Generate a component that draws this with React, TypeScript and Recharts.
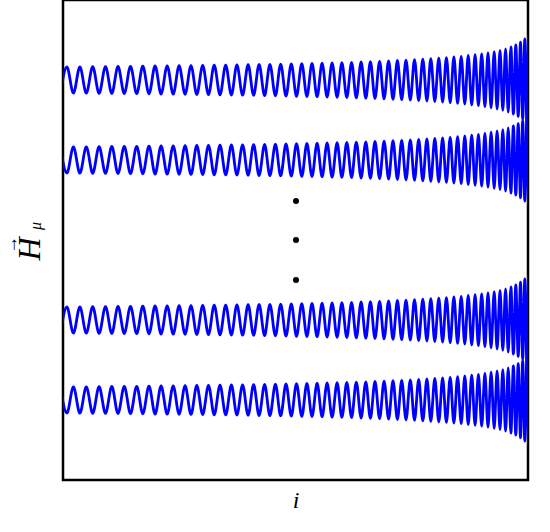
import React from 'react';
import { ComposedChart, Line, XAxis, YAxis, ReferenceArea, ReferenceDot, Customized } from 'recharts';

// positions (along i) of successive extrema of the oscillating curves
const extremaI = [
  -2.6, 3.9, 10.4, 16.9, 23.3, 29.7, 36.1, 42.5, 48.8, 55.0,
  61.3, 67.5, 73.7, 79.8, 86.0, 92.1, 98.1, 104.2, 110.2, 116.1,
  122.1, 128.0, 133.8, 139.7, 145.5, 151.2, 157.0, 162.7, 168.4, 173.9,
  179.6, 185.1, 190.6, 196.1, 201.6, 206.9, 212.4, 217.7, 223.0, 228.3,
  233.5, 238.8, 243.9, 249.0, 254.1, 259.1, 264.1, 269.1, 274.1, 278.9,
  283.8, 288.6, 293.3, 298.1, 302.8, 307.4, 312.0, 316.6, 321.1, 325.6,
  330.0, 334.4, 338.7, 343.0, 347.3, 351.5, 355.7, 359.8, 363.9, 367.8,
  371.8, 375.8, 379.6, 383.4, 387.2, 390.9, 394.6, 398.2, 401.8, 405.2,
  408.7, 412.1, 415.4, 418.7, 421.9, 425.0, 428.1, 431.2, 434.1, 437.0,
  439.8, 442.6, 445.2, 447.9, 450.4, 452.8, 455.2, 457.5, 459.7, 461.8,
  463.9, 465.8, 467.6,
];

// amplitude of the oscillation at each extremum
const envelope = [
  13.0, 13.0, 13.1, 13.2, 13.2, 13.3, 13.3, 13.4, 13.5, 13.5,
  13.6, 13.7, 13.7, 13.8, 13.9, 14.0, 14.0, 14.1, 14.2, 14.3,
  14.3, 14.4, 14.5, 14.6, 14.7, 14.8, 14.9, 14.9, 15.0, 15.1,
  15.2, 15.3, 15.4, 15.5, 15.6, 15.7, 15.8, 15.9, 16.0, 16.2,
  16.3, 16.4, 16.5, 16.6, 16.8, 16.9, 17.0, 17.2, 17.3, 17.4,
  17.6, 17.7, 17.9, 18.0, 18.2, 18.4, 18.5, 18.7, 18.9, 19.1,
  19.3, 19.5, 19.7, 19.9, 20.1, 20.3, 20.5, 20.8, 21.0, 21.3,
  21.5, 21.8, 22.1, 22.4, 22.7, 23.0, 23.4, 23.7, 24.1, 24.5,
  24.9, 25.3, 25.7, 26.2, 26.7, 27.2, 27.8, 28.4, 29.0, 29.7,
  30.4, 31.2, 32.1, 33.0, 34.0, 35.1, 36.4, 37.8, 39.3, 41.0,
  43.0, 45.4, 48.1,
];

const lineCenters = [400, 320, 160, 80];
const firstSigns = [-1, 1, -1, 1];
const lineKeys = ['h1', 'h2', 'h3', 'h4'];

const dotsI = [233, 233, 233];
const dotsH = [279, 240, 200];

const rows = extremaI.map((i, k) => {
  const row: Record<string, number> = { i };
  lineKeys.forEach((key, li) => {
    const s = (k % 2 === 0 ? 1 : -1) * firstSigns[li];
    row[key] = lineCenters[li] + s * envelope[k];
  });
  return row;
});

const serif = "'Liberation Serif', 'DejaVu Serif', serif";

const Labels = () => (
  <g>
    <text x={296} y={508} textAnchor="middle" fontFamily={serif} fontStyle="italic" fontSize={24} fill="#000">i</text>
    <g transform="translate(40,249) rotate(-90)">
      <text x={0} y={0} textAnchor="middle" fontFamily={serif} fontStyle="italic" fontSize={32} fill="#000">H</text>
      <text x={4} y={-23} textAnchor="middle" fontFamily={serif} fontSize={18} fill="#000">→</text>
      <text x={19} y={1} textAnchor="start" fontFamily={serif} fontStyle="italic" fontSize={16} fill="#000">μ</text>
    </g>
  </g>
);

export default function App() {
  return (
    <div style={{ position: 'absolute', left: 0, top: 0, background: '#fff' }}>
      <ComposedChart width={550} height={532} data={rows} margin={{ top: 0, right: 22, bottom: 52, left: 63 }}>
        <XAxis dataKey="i" type="number" domain={[0, 465]} hide allowDataOverflow />
        <YAxis type="number" domain={[0, 480]} hide allowDataOverflow />
        {lineKeys.map((key) => (
          <Line
            key={key}
            type="monotone"
            dataKey={key}
            stroke="#0000ff"
            strokeWidth={2.8}
            dot={false}
            activeDot={false}
            isAnimationActive={false}
          />
        ))}
        <ReferenceArea x1={0} x2={465} y1={0} y2={480} fill="none" stroke="#000" strokeWidth={2.5} fillOpacity={0} />
        {dotsI.map((x, k) => (
          <ReferenceDot key={k} x={x} y={dotsH[k]} r={3} fill="#000" stroke="none" />
        ))}
        <Customized component={Labels} />
      </ComposedChart>
    </div>
  );
}
